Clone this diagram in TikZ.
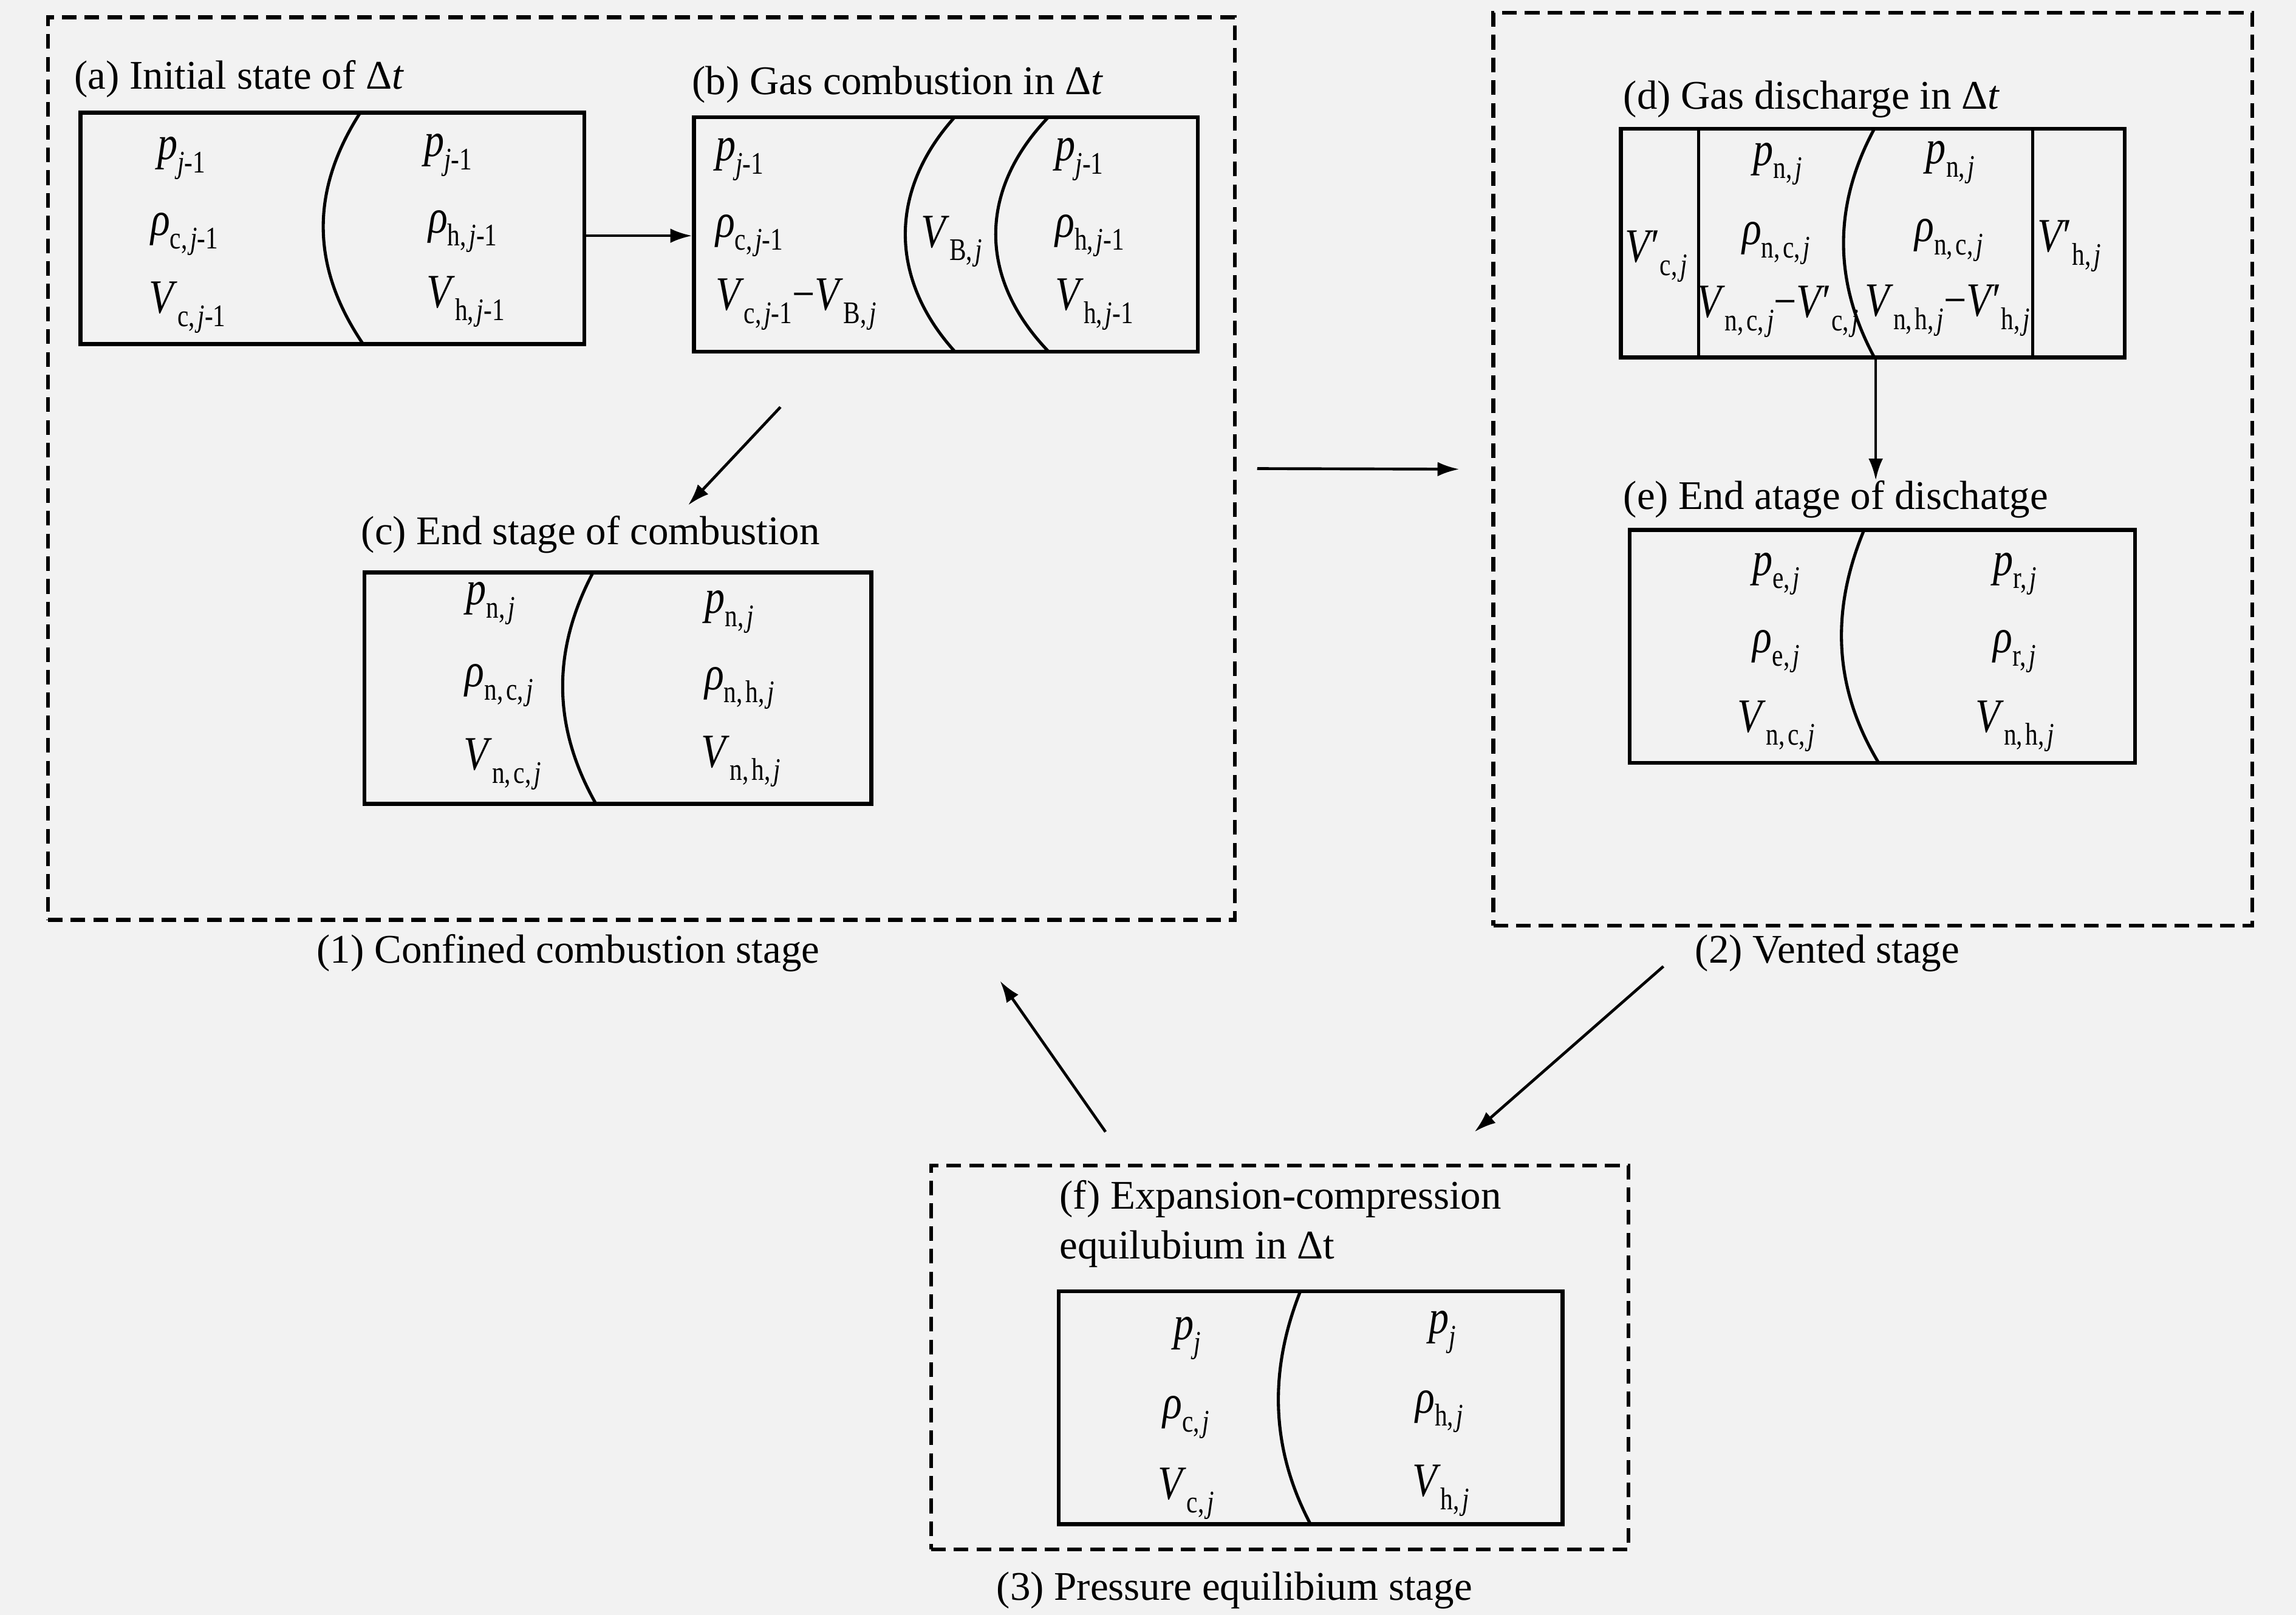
\documentclass[tikz,border=0pt]{standalone}
\usepackage{fontspec}
\setmainfont{Liberation Serif}
\newfontfamily\qfont{Liberation Serif}[FakeStretch=0.84]
\newfontfamily\sfontq{Liberation Serif}[FakeStretch=0.8]
\usetikzlibrary{arrows.meta}
\definecolor{bgc}{HTML}{F2F2F2}
\newcommand{\Sb}[1]{\raisebox{-0.6ex}{\sfontq\fontsize{6.1}{6.5}\selectfont #1}}
\newcommand{\vj}{\textit{j}}
\newcommand{\cm}{,\kern0.09em}
\newcommand{\Vq}{\textit{V}}
\newcommand{\Pq}{\textit{p}}
\newcommand{\Rq}{\textit{ρ}}
\newcommand{\Vpr}{\textit{V}\kern-0.05em′}
\tikzset{
  cell/.style={draw, line width=0.75pt, inner sep=0pt},
  stagebox/.style={draw, line width=0.75pt, dash pattern=on 0.1cm off 0.055cm, inner sep=0pt},
  sepline/.style={line width=0.6pt},
  arr/.style={-{Latex[length=4.2pt,width=2.8pt]}, line width=0.55pt},
  qty/.style={inner sep=0pt, font=\qfont\fontsize{9.3}{10}\selectfont},
  captxt/.style={inner sep=0pt, font=\fontsize{7.9}{9.67}\selectfont},
}
\begin{document}
\begin{tikzpicture}[x=0.01cm, y=-0.01cm]
\fill[bgc] (0,0) rectangle (1568,1103);
\useasboundingbox (0,0) rectangle (1568,1103);

% stage frames
\node[stagebox, minimum width=8.10cm, minimum height=6.16cm] (S1) at (438,320) {};
\node[stagebox, minimum width=5.18cm, minimum height=6.23cm] (S2) at (1279,320.5) {};
\node[stagebox, minimum width=4.76cm, minimum height=2.62cm] (S3) at (874,927) {};

% state boxes
\node[cell, minimum width=3.44cm, minimum height=1.58cm] (A) at (227,156) {};
\node[cell, minimum width=3.44cm, minimum height=1.60cm] (B) at (646,160) {};
\node[cell, minimum width=3.46cm, minimum height=1.58cm] (C) at (422,470) {};
\node[cell, minimum width=3.44cm, minimum height=1.56cm] (D) at (1279,166) {};
\node[cell, minimum width=3.45cm, minimum height=1.59cm] (E) at (1285.5,441.5) {};
\node[cell, minimum width=3.44cm, minimum height=1.59cm] (F) at (895,961.5) {};

% flame fronts / interfaces
\draw[sepline] (246,77) .. controls (212,130) and (212,182) .. (248,235);
\draw[sepline] (652,80) .. controls (607,130) and (607,190) .. (652,240);
\draw[sepline] (716,80) .. controls (668,130) and (668,190) .. (716,240);
\draw[sepline] (405,391) .. controls (377,444) and (377,496) .. (407,549);
\draw[sepline] (1280,88) .. controls (1252,140) and (1252,192) .. (1280,244);
\draw[sepline] (1160,88) -- (1160,244);
\draw[sepline] (1388,88) -- (1388,244);
\draw[sepline] (1273,362) .. controls (1251,415) and (1251,468) .. (1283,521);
\draw[sepline] (888,882) .. controls (867,935) and (867,988) .. (895,1041);

% captions
\node[captxt, anchor=west] (capA) at (50,54) {(a) Initial state of Δ\textit{t}};
\node[captxt, anchor=west] (capB) at (472,58) {(b) Gas combustion in Δ\textit{t}};
\node[captxt, anchor=west] (capC) at (246,365) {(c) End stage of combustion};
\node[captxt, anchor=west] (capD) at (1108,68) {(d) Gas discharge in Δ\textit{t}};
\node[captxt, anchor=west] (capE) at (1108,341) {(e) End atage of dischatge};
\node[captxt, anchor=west, align=left] (capF) at (723,836) {(f) Expansion-compression\\equilubium in Δt};
\node[captxt] (cap1) at (388,651) {(1) Confined combustion stage};
\node[captxt] (cap2) at (1248,651) {(2) Vented stage};
\node[captxt] (cap3) at (843,1086) {(3) Pressure equilibium stage};

% (a)
\node[qty] (a1) at (124,108) {\Pq\Sb{\vj-1}};
\node[qty] (a2) at (126,160) {\Rq\Sb{c\cm\vj-1}};
\node[qty] (a3) at (128,210) {\Vq\Sb{c\cm\vj-1}};
\node[qty] (a4) at (306,106) {\Pq\Sb{\vj-1}};
\node[qty] (a5) at (316,158) {\Rq\Sb{h\cm\vj-1}};
\node[qty] (a6) at (318,206) {\Vq\Sb{h\cm\vj-1}};
% (b)
\node[qty, anchor=west] (b1) at (488,109) {\Pq\Sb{\vj-1}};
\node[qty, anchor=west] (b2) at (488,161) {\Rq\Sb{c\cm\vj-1}};
\node[qty, anchor=west] (b3) at (488,208) {\Vq\Sb{c\cm\vj-1}−\Vq\Sb{B\cm\vj}};
\node[qty] (b4) at (650,165) {\Vq\Sb{B\cm\vj}};
\node[qty, anchor=west] (b5) at (720,109) {\Pq\Sb{\vj-1}};
\node[qty, anchor=west] (b6) at (720,161) {\Rq\Sb{h\cm\vj-1}};
\node[qty, anchor=west] (b7) at (720,208) {\Vq\Sb{h\cm\vj-1}};
% (c)
\node[qty] (c1) at (335,412) {\Pq\Sb{n\cm\vj}};
\node[qty] (c2) at (341,468) {\Rq\Sb{n\cm c\cm\vj}};
\node[qty] (c3) at (343,522) {\Vq\Sb{n\cm c\cm\vj}};
\node[qty] (c4) at (498,418) {\Pq\Sb{n\cm\vj}};
\node[qty] (c5) at (505,470) {\Rq\Sb{n\cm h\cm\vj}};
\node[qty] (c6) at (506,520) {\Vq\Sb{n\cm h\cm\vj}};
% (d)
\node[qty] (d1) at (1131,175) {\Vpr\Sb{c\cm\vj}};
\node[qty] (d2) at (1214,112) {\Pq\Sb{n\cm\vj}};
\node[qty] (d3) at (1213,166) {\Rq\Sb{n\cm c\cm\vj}};
\node[qty] (d4) at (1214,213) {\Vq\Sb{n\cm c\cm\vj}−\Vpr\Sb{c\cm\vj}};
\node[qty] (d5) at (1332,111) {\Pq\Sb{n\cm\vj}};
\node[qty] (d6) at (1331,164) {\Rq\Sb{n\cm c\cm\vj}};
\node[qty] (d7) at (1330,212) {\Vq\Sb{n\cm h\cm\vj}−\Vpr\Sb{h\cm\vj}};
\node[qty] (d8) at (1413,168) {\Vpr\Sb{h\cm\vj}};
% (e)
\node[qty] (e1) at (1213,392) {\Pq\Sb{e\cm\vj}};
\node[qty] (e2) at (1213,445) {\Rq\Sb{e\cm\vj}};
\node[qty] (e3) at (1213,496) {\Vq\Sb{n\cm c\cm\vj}};
\node[qty] (e4) at (1376,392) {\Pq\Sb{r\cm\vj}};
\node[qty] (e5) at (1376,445) {\Rq\Sb{r\cm\vj}};
\node[qty] (e6) at (1376,496) {\Vq\Sb{n\cm h\cm\vj}};
% (f)
\node[qty] (f1) at (811,914) {\Pq\Sb{\vj}};
\node[qty] (f2) at (810,968) {\Rq\Sb{c\cm\vj}};
\node[qty] (f3) at (810,1020) {\Vq\Sb{c\cm\vj}};
\node[qty] (f4) at (985,910) {\Pq\Sb{\vj}};
\node[qty] (f5) at (983,964) {\Rq\Sb{h\cm\vj}};
\node[qty] (f6) at (984,1018) {\Vq\Sb{h\cm\vj}};

% connectors
\draw[arr] ([yshift=-0.05cm]A.east) -- ([yshift=-0.05cm]A.east -| B.west);
\coordinate (bcS) at (533,278);
\coordinate (bcE) at (470,345);
\draw[arr] (bcS) -- (bcE);
\draw[arr, shorten <=0.14cm, shorten >=0.22cm] (S1.east) -- (S2.west);
\coordinate (deE) at (1281,328);
\draw[arr] (deE |- D.south) -- (deE);
\coordinate (s23S) at (1136,660);
\coordinate (s23E) at (1007,773);
\draw[arr] (s23S) -- (s23E);
\coordinate (s31S) at (755,773);
\coordinate (s31E) at (683,670);
\draw[arr] (s31S) -- (s31E);
\end{tikzpicture}
\end{document}
